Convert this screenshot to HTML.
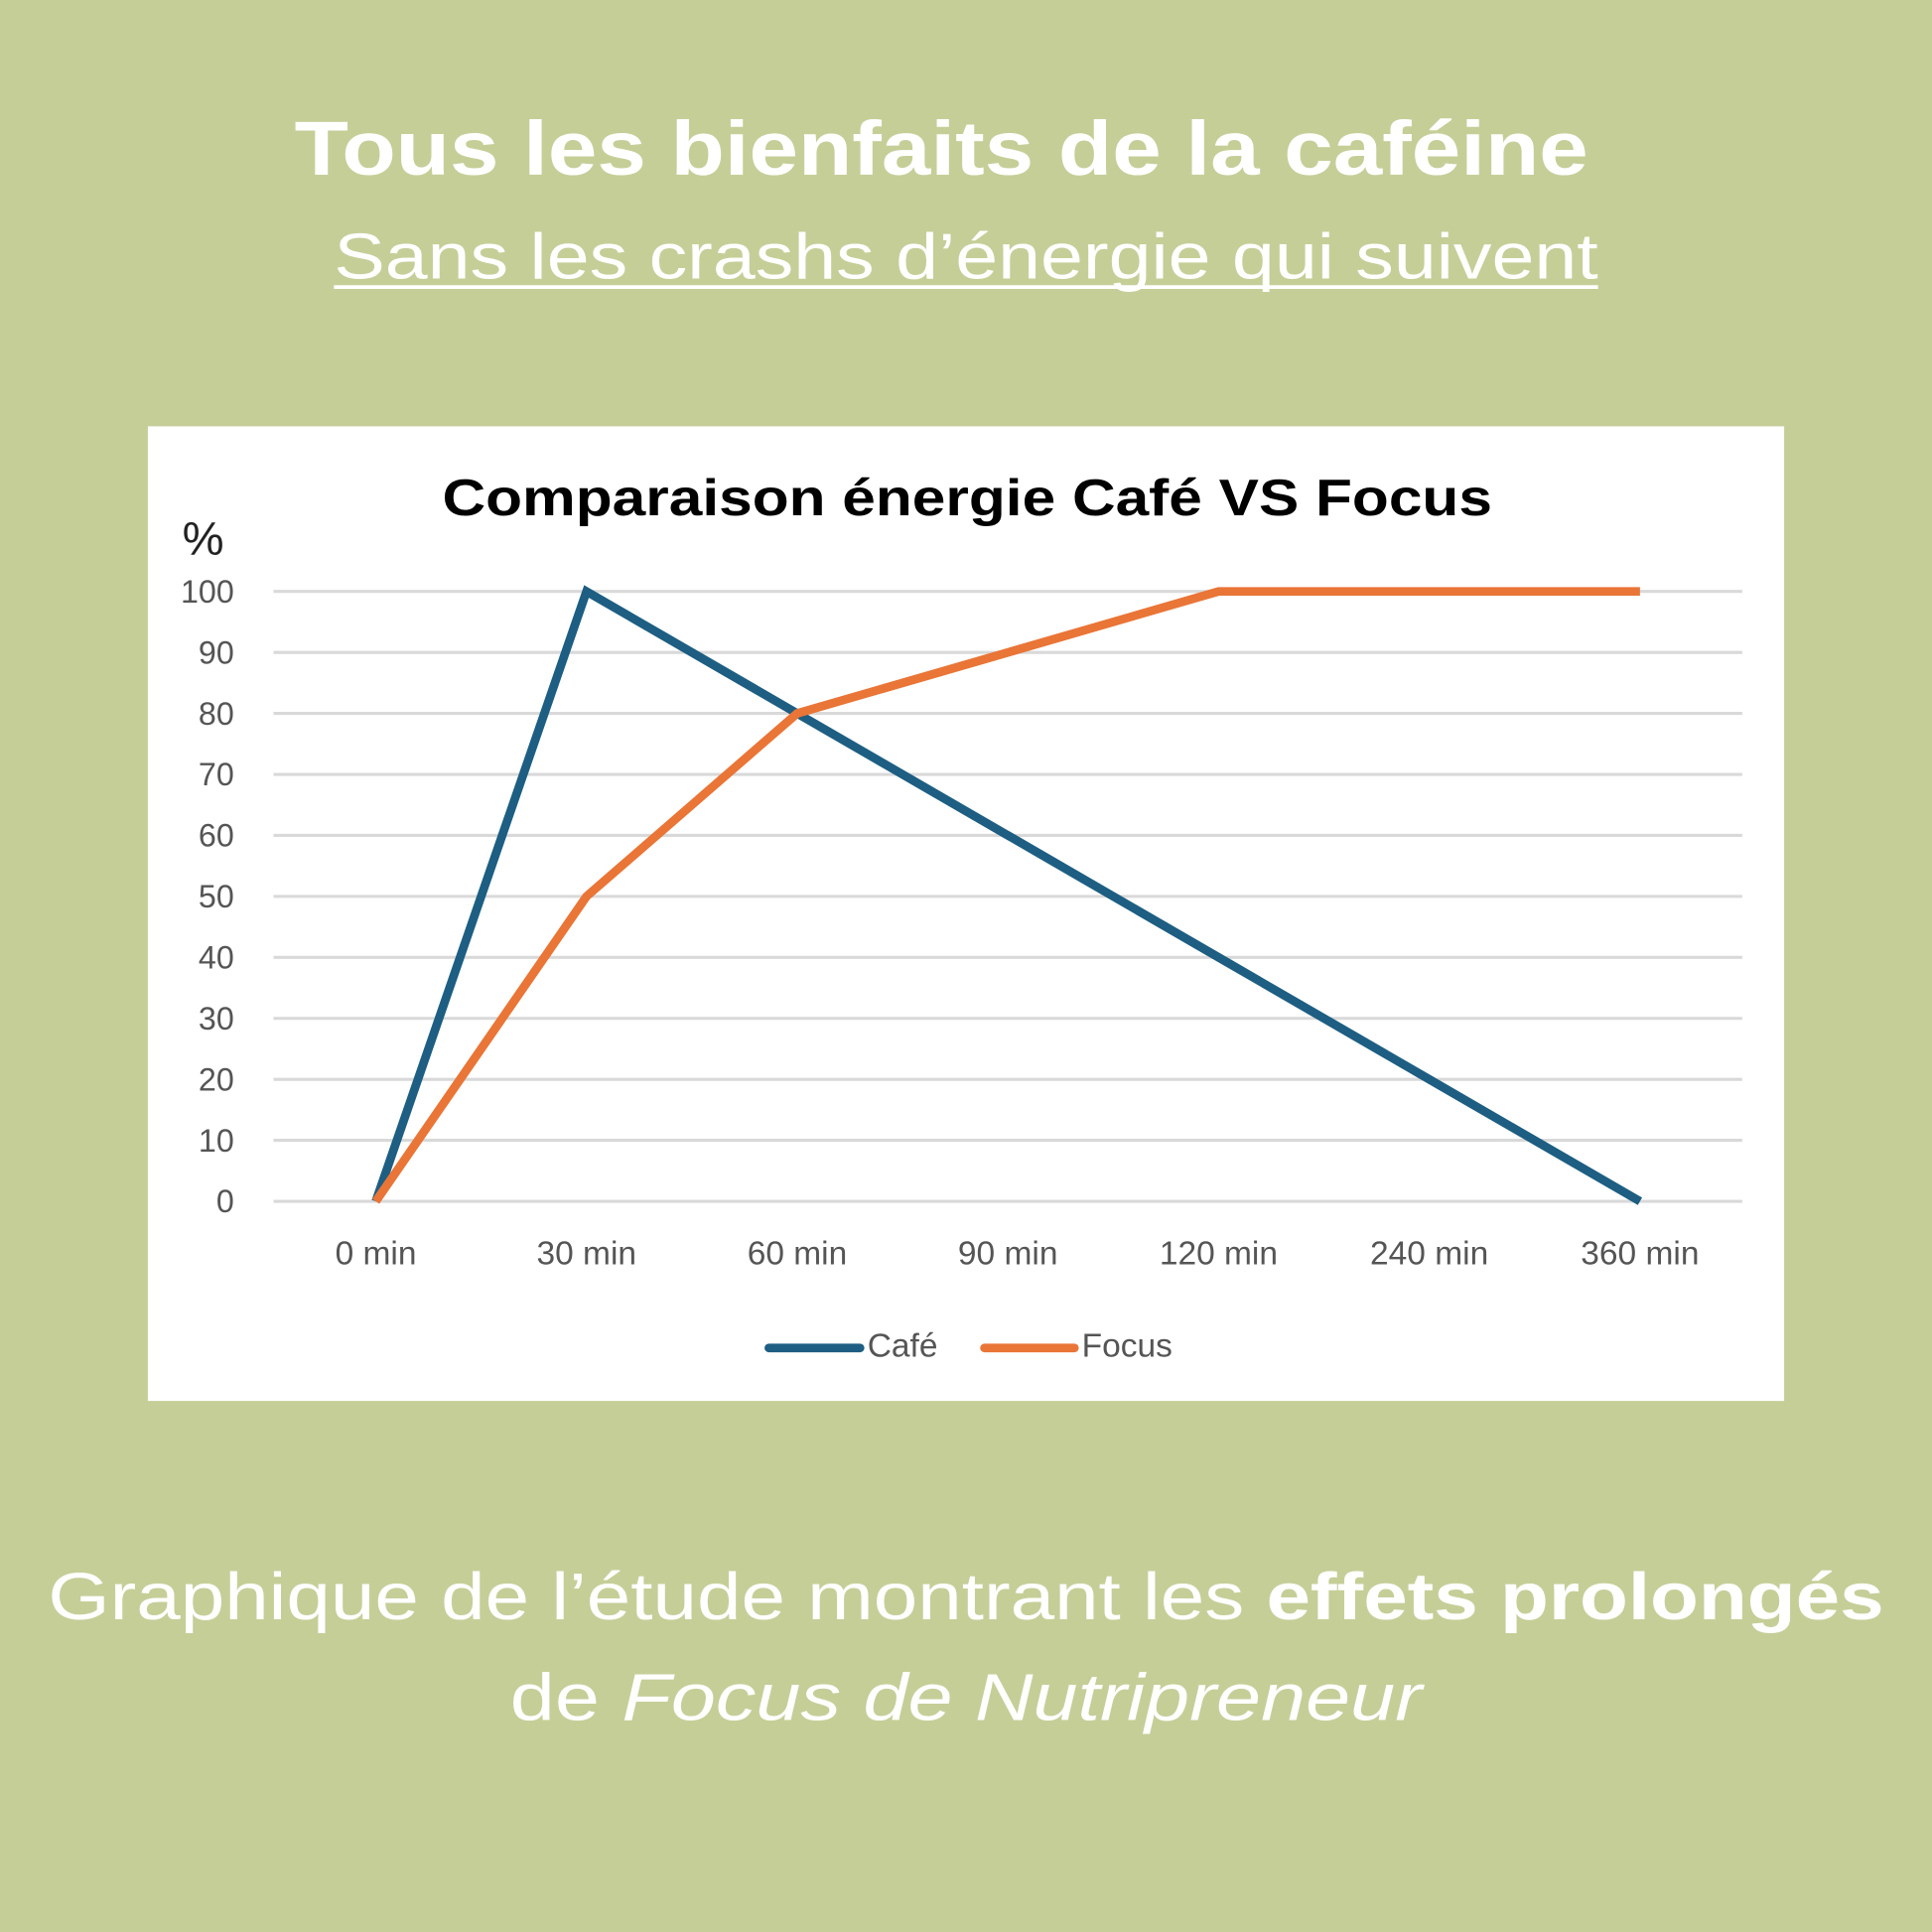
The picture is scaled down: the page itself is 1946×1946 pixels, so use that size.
<!DOCTYPE html>
<html><head><meta charset="utf-8"><style>
html,body{margin:0;padding:0;background:#c6ce98;}
svg{display:block;}
text{font-family:"Liberation Sans",sans-serif;}
</style></head><body>
<svg id="root" width="1946" height="1946" viewBox="0 0 1568 1568" xmlns="http://www.w3.org/2000/svg">
<rect x="0" y="0" width="1568" height="1568" fill="#c6ce98"/>
<text x="764" y="142" text-anchor="middle" font-size="62" font-weight="bold" fill="#fff" textLength="1050" lengthAdjust="spacingAndGlyphs">Tous les bienfaits de la caféine</text>
<text x="784" y="226" text-anchor="middle" font-size="52" fill="#fff" textLength="1026" lengthAdjust="spacingAndGlyphs">Sans les crashs d’énergie qui suivent</text>
<line x1="271" y1="233" x2="1297" y2="233" stroke="#fff" stroke-width="3"/>
<rect x="120" y="346" width="1328" height="791" fill="#fff"/>
<text x="785" y="418" text-anchor="middle" font-size="42" font-weight="bold" fill="#000" textLength="852" lengthAdjust="spacingAndGlyphs">Comparaison énergie Café VS Focus</text>
<text x="148" y="450" font-size="38" fill="#222">%</text>
<g id="plot"></g>
<text x="784" y="1314" text-anchor="middle" font-size="54" fill="#fff" textLength="1490" lengthAdjust="spacingAndGlyphs">Graphique de l’étude montrant les <tspan font-weight="bold">effets prolongés</tspan></text>
<text x="784" y="1396" text-anchor="middle" font-size="54" fill="#fff" textLength="740" lengthAdjust="spacingAndGlyphs">de <tspan font-style="italic">Focus de Nutripreneur</tspan></text>
</svg>
<script>
const categories = ["0 min","30 min","60 min","90 min","120 min","240 min","360 min"];
const cafeValues = [0,100,80,60,40,20,0];
const focusValues = [0,50,80,90,100,100,100];
const yTicks = [0,10,20,30,40,50,60,70,80,90,100];

const NS="http://www.w3.org/2000/svg";
const g=document.getElementById('plot');
const x0=222,x1=1414,y0=975,y100=480,firstX=305,step=171;
const xs=i=>firstX+i*step;
const ys=v=>y0-(v/100)*(y0-y100);
function mk(tag,attrs){const e=document.createElementNS(NS,tag);for(const k in attrs)e.setAttribute(k,attrs[k]);g.appendChild(e);return e;}
yTicks.forEach(t=>{
  const l=mk('line',{x1:x0,x2:x1,y1:ys(t),y2:ys(t),stroke:'#d9d9d9','stroke-width':2.5});
  
  
  const tx=mk('text',{x:190,y:ys(t)+9,'text-anchor':'end','font-size':26,fill:'#555'});
  tx.textContent=t;
  
  
});
categories.forEach((c,i)=>{
  const tx=mk('text',{x:xs(i),y:1026,'text-anchor':'middle','font-size':27,fill:'#555'});
  tx.textContent=c;
  
  
});
function series(vals,color,name){
  const p=mk('polyline',{points:vals.map((v,i)=>xs(i)+','+ys(v)).join(' '),fill:'none',stroke:color,'stroke-width':7,'stroke-linejoin':'miter'});
  
  
}
series(cafeValues,'#1d5e82','cafe-line');
series(focusValues,'#e97537','focus-line');
const l1=mk('line',{x1:624,x2:698,y1:1094,y2:1094,stroke:'#1d5e82','stroke-width':7,'stroke-linecap':'round'});


const t1=mk('text',{x:704,y:1101,'font-size':27,fill:'#555'});t1.textContent='Café';


const l2=mk('line',{x1:799,x2:872,y1:1094,y2:1094,stroke:'#e97537','stroke-width':7,'stroke-linecap':'round'});


const t2=mk('text',{x:878,y:1101,'font-size':27,fill:'#555'});t2.textContent='Focus';


</script>
</body></html>
